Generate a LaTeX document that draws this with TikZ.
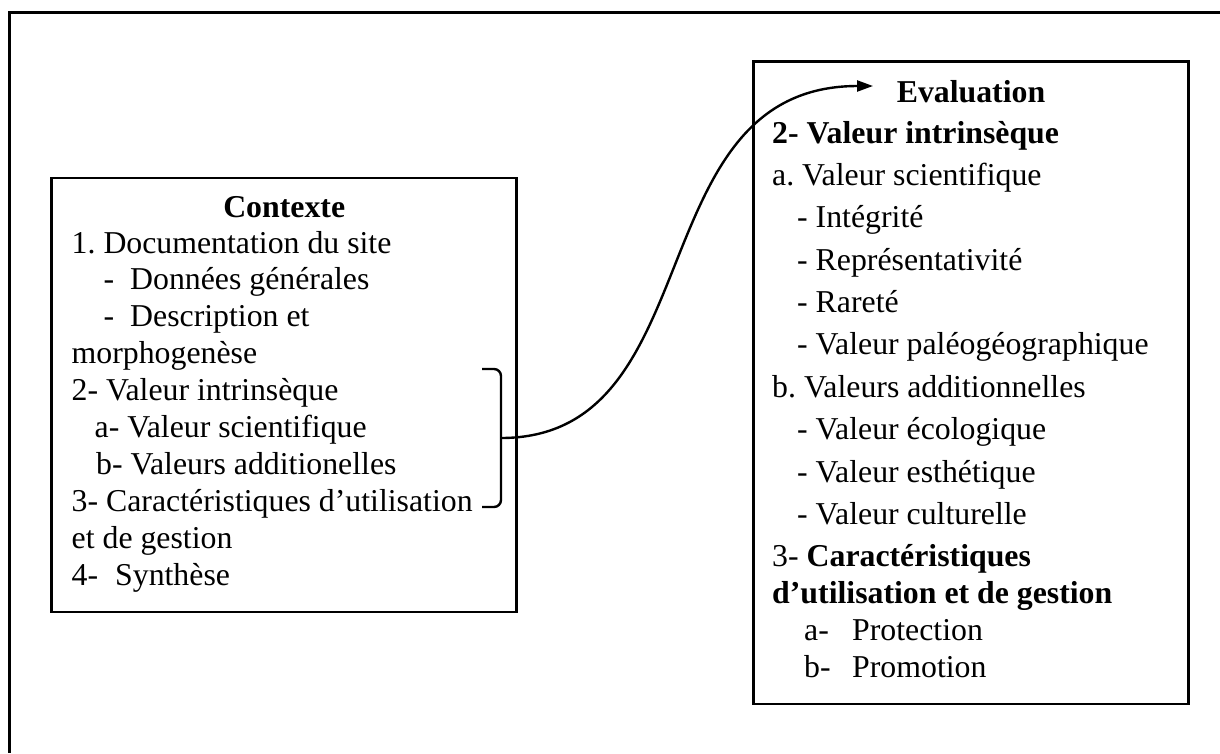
\documentclass[tikz,border=0pt]{standalone}
\usepackage{fontspec}
\setmainfont{Liberation Serif}
\usetikzlibrary{arrows.meta}
\frenchspacing

\tikzset{
  frame/.style={draw=black, line width=3pt},
  box/.style={draw=black, line width=2.7pt, inner sep=0pt, outer sep=0pt},
  brk/.style={draw=black, line width=2.4pt, rounded corners=7pt},
  conn/.style={draw=black, line width=2.4pt, -{Triangle[length=16pt,width=11pt]}},
  txt/.style={anchor=base west, inner sep=0pt, font=\fontsize{31.8}{36.9}\selectfont},
  ttl/.style={anchor=base, inner sep=0pt, font=\fontsize{31.8}{36.9}\selectfont\bfseries},
}

\begin{document}
\begin{tikzpicture}[x=1pt, y=-1pt]
\useasboundingbox (0,0) rectangle (1220,753);

% page frame (top and left edges)
\draw[frame] (1220,12.5) -- (9.5,12.5) -- (9.5,753);

% the two boxes
\node[box, anchor=north west, minimum width=465pt, minimum height=434pt] (ctx) at (51.7,178) {};
\node[box, anchor=north west, minimum width=435.4pt, minimum height=642.7pt] (eval) at (753.3,61.3) {};

% left box: Contexte
\node[ttl] (ctxtitle) at (284.2,217) {Contexte};
\node[txt] (c1)  at (71.5,253)   {1. Documentation du site};
\node[txt] (c2)  at (103.5,289.9) {\makebox[26.5pt][l]{-}Données générales};
\node[txt] (c3)  at (103.5,326.8) {\makebox[26.5pt][l]{-}Description et};
\node[txt] (c4)  at (71.5,363.7) {morphogenèse};
\node[txt] (c5)  at (71.5,400.6) {2- Valeur intrinsèque};
\node[txt] (c6)  at (94.5,437.5) {a- Valeur scientifique};
\node[txt] (c7)  at (96,474.4)   {b- Valeurs additionelles};
\node[txt] (c8)  at (71.5,511.3) {3- Caractéristiques d’utilisation};
\node[txt] (c9)  at (71.5,548.2) {et de gestion};
\node[txt] (c10) at (71.5,585.1) {\makebox[43.5pt][l]{4-}Synthèse};

% right box: Evaluation
\node[ttl] (evtitle) at (971,102.7) {Evaluation};
\node[txt, font=\fontsize{31.8}{36.9}\selectfont\bfseries] (e1) at (772,143) {2- Valeur intrinsèque};
\node[txt] (e2)  at (772,185.4) {a. Valeur scientifique};
\node[txt] (e3)  at (797,227.8) {- Intégrité};
\node[txt] (e4)  at (797,270.1) {- Représentativité};
\node[txt] (e5)  at (797,312.5) {- Rareté};
\node[txt] (e6)  at (797,354.9) {- Valeur paléogéographique};
\node[txt] (e7)  at (772,397.3) {b. Valeurs additionnelles};
\node[txt] (e8)  at (797,439.6) {- Valeur écologique};
\node[txt] (e9)  at (797,482)   {- Valeur esthétique};
\node[txt] (e10) at (797,524.4) {- Valeur culturelle};
\node[txt] (e11) at (772,566.7) {3- \textbf{Caractéristiques}};
\node[txt, font=\fontsize{31.8}{36.9}\selectfont\bfseries] (e12) at (772,603.6) {d’utilisation et de gestion};
\node[txt] (e13) at (804,640.5) {\makebox[48pt][l]{a-}Protection};
\node[txt] (e14) at (804,677.4) {\makebox[48pt][l]{b-}Promotion};

% bracket grouping items 2 and 3
\coordinate (brtop) at (482,369);
\coordinate (brmid) at (501,438);
\coordinate (brbot) at (482,507);
\draw[brk] (brtop) -| (brmid) |- (brbot);

% curved arrow to the evaluation
\coordinate (tip) at (873,86);
\draw[conn] (brmid) .. controls (713,438) and (637,86) .. (tip);
\end{tikzpicture}
\end{document}
